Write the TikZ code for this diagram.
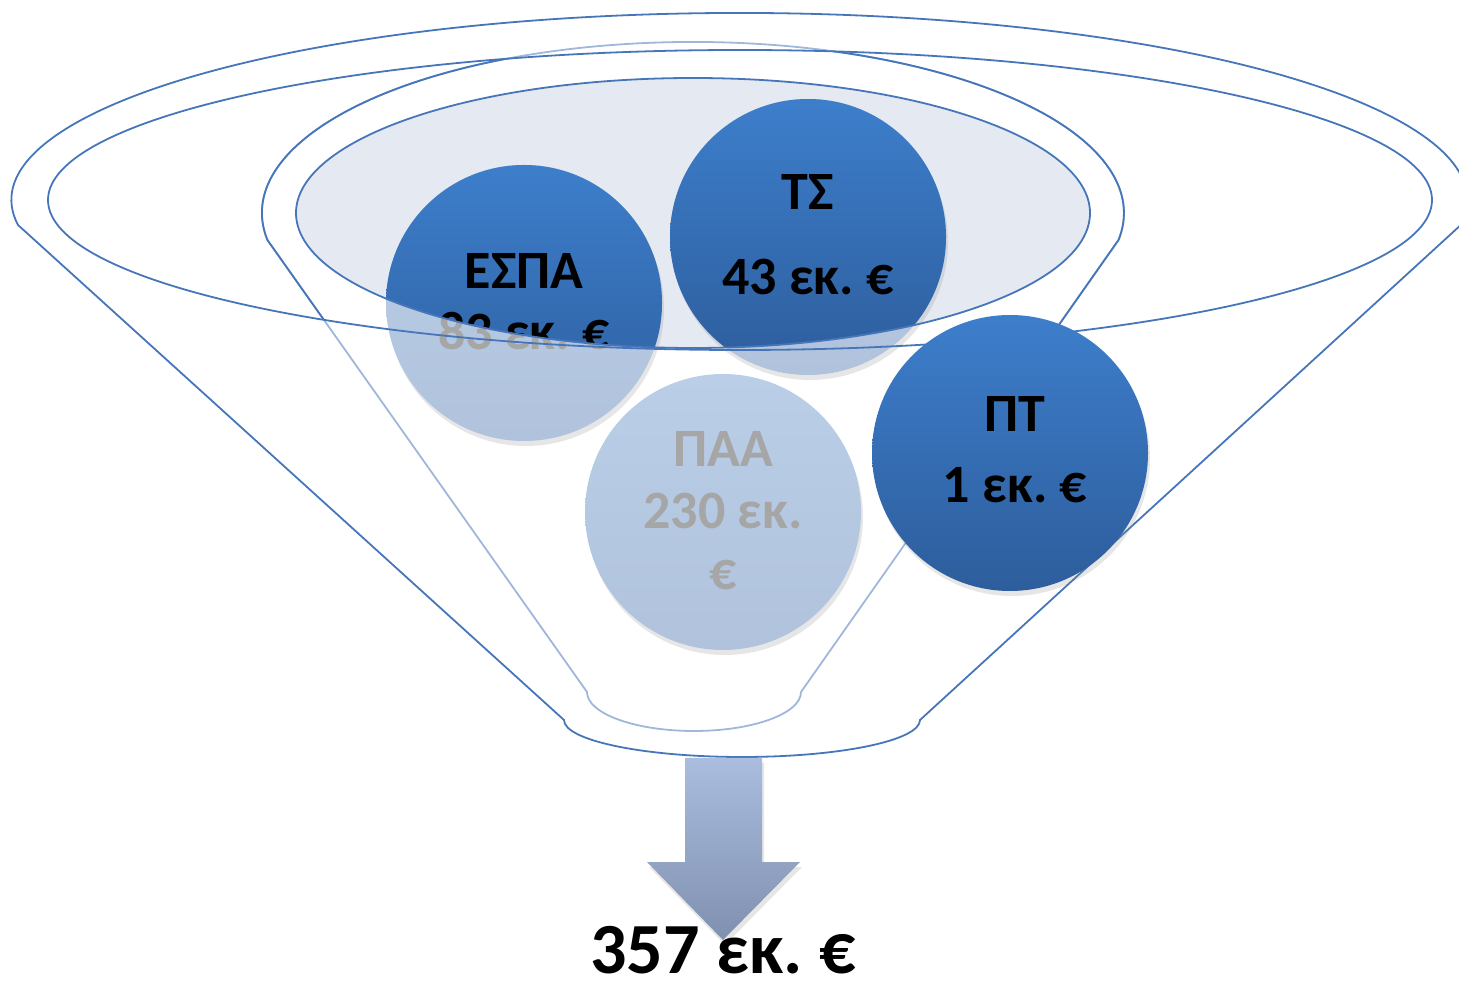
\documentclass[tikz,border=0pt]{standalone}
\usepackage{fontspec}
\setmainfont{Carlito}
\usetikzlibrary{shadows}
\frenchspacing

\definecolor{rimblue}{HTML}{4676B9}
\definecolor{rimpale}{HTML}{9FB7DB}
\definecolor{mouthfill}{HTML}{E4E9F2}
\definecolor{balltop}{HTML}{3D7ECB}
\definecolor{ballbottom}{HTML}{2D5D9C}
\definecolor{paletop}{HTML}{BACEE7}
\definecolor{palebottom}{HTML}{B1C3DC}
\definecolor{textgrey}{HTML}{A6A6A6}
\definecolor{arrowtop}{HTML}{AABDDF}
\definecolor{arrowbottom}{HTML}{8090AF}

\newcommand\innerfunnel{(587,291) -- (267.4,743) arc[start angle=189.1,end angle=-9.1,x radius=431,y radius=171] -- (801,291) arc[start angle=0,end angle=-180,x radius=107,y radius=39] -- cycle}

\begin{document}
\begin{tikzpicture}[x=1pt,y=1pt,line width=1.8pt]
    \tikzstyle{ball}=[circle,minimum size=276pt,inner sep=0pt]
    \tikzstyle{darkball}=[ball,top color=balltop,bottom color=ballbottom]
    \tikzstyle{paleball}=[ball,top color=paletop,bottom color=palebottom]
    \tikzstyle{softshadow}=[drop shadow={shadow xshift=2pt,shadow yshift=-5pt,opacity=0.2}]
    \tikzstyle{amount}=[anchor=base,inner sep=0pt,font=\fontsize{54}{60}\selectfont\bfseries]
    \useasboundingbox (0,0) rectangle (1459,983);

    % outer funnel
    \draw[rimblue] (564,263) -- (18,758) arc[start angle=187.7,end angle=-7.7,x radius=728,y radius=187] -- (920,263) arc[start angle=0,end angle=-180,x radius=178,y radius=37] -- cycle;

    % inner funnel, paler behind the outer wall
    \draw[rimpale] \innerfunnel;
    \begin{scope}
        \clip (740,783) ellipse [x radius=692,y radius=150];
        \draw[rimblue] \innerfunnel;
    \end{scope}
    \fill[mouthfill] (693,770) ellipse [x radius=397,y radius=135];

    % balls inside the funnel
    \foreach \name/\x/\y in {espa/524/680, ts/808/746, paa/723/471}
        \node[paleball,softshadow] (\name-pale) at (\x,\y) {};
    \foreach \name/\x/\y/\txt in {espa-a/524/694/ΕΣΠΑ, espa-b/524/633/83 εκ. €, ts-a/808/773/ΤΣ, ts-b/808/688/43 εκ. €, paa-a/723/516/ΠΑΑ, paa-b/723/454/230 εκ., paa-c/723/393/€}
        \node[amount,textgrey] (\name-g) at (\x,\y) {\txt};

    % parts showing above the mouth
    \begin{scope}
        \clip (693,770) ellipse [x radius=397,y radius=135];
        \node[darkball] (espa) at (524,680) {};
        \node[darkball] (ts) at (808,746) {};
        \foreach \name/\x/\y/\txt in {espa-a/524/694/ΕΣΠΑ, espa-b/524/633/83 εκ. €, ts-a/808/773/ΤΣ, ts-b/808/688/43 εκ. €}
            \node[amount] (\name) at (\x,\y) {\txt};
    \end{scope}
    \draw[rimblue] (693,770) ellipse [x radius=397,y radius=135];
    \draw[rimblue] (740,783) ellipse [x radius=692,y radius=150];

    % ball in front
    \node[darkball,softshadow] (pt) at (1010,530) {};
    \node[amount] (pt-a) at (1015,551) {ΠΤ};
    \node[amount] (pt-b) at (1015,480) {1 εκ. €};

    % output
    \path[top color=arrowtop,bottom color=arrowbottom,softshadow] (685,225) -- (762,225) -- (762,121) -- (800,121) -- (723,43) -- (647,121) -- (685,121) -- cycle;
    \node[amount,font=\fontsize{72}{80}\selectfont\bfseries] (total) at (723,10) {357 εκ. €};
\end{tikzpicture}
\end{document}
